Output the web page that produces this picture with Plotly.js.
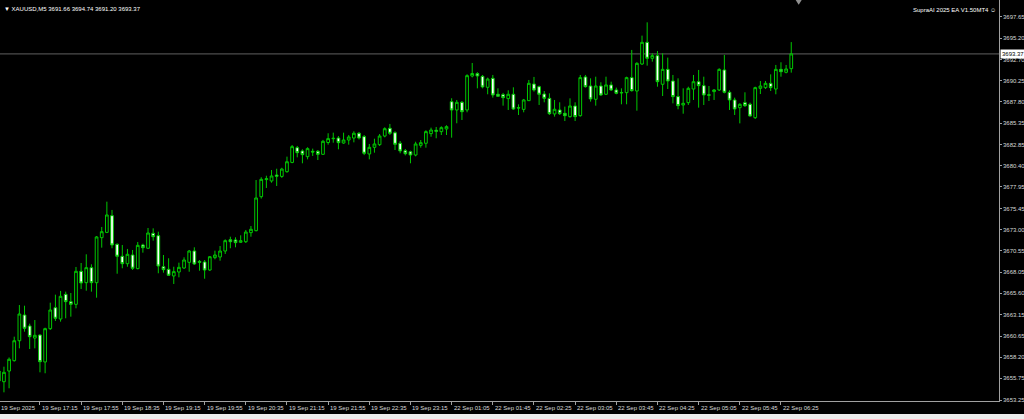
<!DOCTYPE html>
<html>
<head>
<meta charset="utf-8">
<script src="https://cdn.plot.ly/plotly-3.0.1.min.js"></script>
<style>
html,body{margin:0;padding:0;background:#ececec;overflow:hidden;}
#chart{width:1024px;height:414px;}
</style>
</head>
<body>
<div id="chart"></div>
<script>
// ---- data ----
const symbol = "XAUUSD,M5";
const eaName = "SupraAI 2025 EA V1.50MT4";
const fridayDate = "19 Sep";
const mondayDate = "22 Sep";
const fridayTimes = ["16:35","16:40","16:45","16:50","16:55",
"17:00","17:05","17:10","17:15","17:20","17:25","17:30","17:35","17:40","17:45","17:50","17:55",
"18:00","18:05","18:10","18:15","18:20","18:25","18:30","18:35","18:40","18:45","18:50","18:55",
"19:00","19:05","19:10","19:15","19:20","19:25","19:30","19:35","19:40","19:45","19:50","19:55",
"20:00","20:05","20:10","20:15","20:20","20:25","20:30","20:35","20:40","20:45","20:50","20:55",
"21:00","21:05","21:10","21:15","21:20","21:25","21:30","21:35","21:40","21:45","21:50","21:55",
"22:00","22:05","22:10","22:15","22:20","22:25","22:30","22:35","22:40","22:45","22:50","22:55",
"23:00","23:05","23:10","23:15","23:20","23:25","23:30","23:35","23:40","23:45","23:50"];
const mondayTimes = ["01:05","01:10","01:15","01:20","01:25","01:30","01:35","01:40","01:45","01:50","01:55",
"02:00","02:05","02:10","02:15","02:20","02:25","02:30","02:35","02:40","02:45","02:50","02:55",
"03:00","03:05","03:10","03:15","03:20","03:25","03:30","03:35","03:40","03:45","03:50","03:55",
"04:00","04:05","04:10","04:15","04:20","04:25","04:30","04:35","04:40","04:45","04:50","04:55",
"05:00","05:05","05:10","05:15","05:20","05:25","05:30","05:35","05:40","05:45","05:50","05:55",
"06:00","06:05","06:10","06:15","06:20","06:25","06:30","06:35"];

const opens = [3656.61,3655.37,3656.61,3657.81,3660.12,3663.10,3661.83,3660.43,3660.78,3657.66,
3661.52,3663.95,3662.64,3665.50,3664.65,3664.34,3668.17,3666.85,3668.59,3666.85,
3672.07,3672.68,3674.62,3671.30,3669.91,3669.05,3670.06,3668.48,3671.22,3670.84,
3672.57,3672.30,3668.70,3668.40,3667.63,3668.09,3668.55,3669.21,3670.52,3669.32,
3669.25,3668.32,3669.75,3669.83,3670.52,3671.83,3671.80,3671.53,3671.60,3672.65,
3672.88,3676.82,3678.80,3678.64,3679.33,3679.17,3679.72,3680.79,3682.50,3682.12,
3681.46,3682.08,3682.08,3681.73,3683.10,3683.60,3683.62,3683.04,3683.39,3683.62,
3684.17,3683.78,3681.77,3682.54,3682.85,3683.85,3684.75,3684.23,3683.01,3682.15,
3682.03,3681.65,3682.77,3683.01,3684.13,3684.52,3684.36,3684.67,3687.83,3686.87,
3687.76,3686.87,3690.81,3691.10,3690.77,3689.50,3690.54,3688.69,3688.65,3688.19,
3688.69,3687.14,3686.94,3687.95,3689.88,3689.57,3688.72,3688.22,3686.41,3686.87,
3686.48,3686.10,3687.33,3686.21,3690.70,3689.65,3688.11,3689.65,3688.69,3689.77,
3689.19,3688.90,3688.88,3690.62,3689.07,3692.20,3694.71,3692.86,3693.17,3689.85,
3691.58,3690.23,3688.42,3687.45,3687.72,3689.30,3690.15,3689.69,3688.63,3689.00,
3689.19,3691.51,3688.92,3688.03,3687.14,3687.72,3687.53,3685.98,3689.38,3689.46,
3689.96,3689.30,3691.58,3691.24,3691.66];
const highs = [3657.20,3657.11,3658.18,3660.59,3664.26,3664.18,3662.10,3662.52,3660.87,3661.63,
3664.53,3665.46,3665.89,3665.81,3665.65,3668.67,3669.13,3670.14,3668.98,3672.26,
3673.31,3676.24,3675.28,3671.40,3671.22,3670.76,3670.64,3671.57,3671.37,3673.19,
3673.15,3672.76,3670.06,3669.68,3668.70,3669.17,3669.79,3670.64,3670.95,3669.48,
3669.48,3669.94,3670.56,3671.10,3671.87,3672.18,3672.11,3672.34,3672.96,3673.42,
3678.75,3679.07,3679.25,3679.91,3680.06,3680.17,3681.46,3682.81,3682.70,3682.31,
3682.55,3682.39,3682.23,3683.40,3684.17,3684.24,3683.85,3684.24,3683.97,3684.40,
3684.32,3683.97,3682.93,3683.54,3684.08,3684.86,3685.25,3684.40,3683.27,3682.35,
3682.15,3683.19,3683.39,3684.52,3684.82,3684.90,3684.98,3685.10,3688.23,3688.03,
3687.91,3691.01,3692.32,3691.25,3690.93,3690.62,3690.93,3689.38,3688.85,3689.15,
3689.50,3687.52,3688.15,3690.35,3690.70,3689.69,3689.07,3688.80,3688.03,3687.76,
3687.26,3688.22,3687.76,3690.93,3690.93,3690.54,3690.73,3690.08,3690.73,3690.15,
3689.46,3689.38,3690.73,3693.83,3692.40,3695.49,3697.03,3693.44,3693.71,3693.44,
3692.94,3690.93,3690.54,3689.38,3689.57,3690.93,3691.51,3690.73,3689.65,3689.30,
3691.70,3693.25,3689.15,3688.30,3687.64,3688.92,3687.72,3689.57,3690.23,3690.23,
3691.00,3692.09,3692.40,3692.09,3694.74];
const lows = [3654.00,3654.14,3654.61,3657.70,3659.24,3661.17,3659.16,3659.24,3656.46,3656.35,
3661.37,3662.41,3662.33,3662.72,3662.91,3663.88,3666.12,3665.92,3665.81,3665.11,
3670.91,3672.60,3670.84,3667.89,3668.52,3668.70,3668.32,3668.40,3670.33,3670.75,
3671.72,3667.94,3668.01,3667.63,3666.70,3667.47,3668.45,3668.12,3668.90,3668.24,
3667.31,3668.20,3669.56,3669.40,3670.18,3670.84,3670.95,3671.45,3671.45,3672.18,
3672.80,3676.60,3677.83,3678.44,3678.06,3679.00,3679.60,3680.70,3681.38,3680.69,
3681.15,3681.54,3681.07,3681.65,3682.85,3683.08,3682.31,3682.95,3682.85,3683.12,
3683.45,3681.64,3681.15,3681.92,3682.70,3683.70,3683.97,3682.23,3681.85,3681.61,
3680.69,3681.50,3682.50,3682.50,3683.77,3683.59,3683.97,3683.97,3683.66,3685.33,
3685.71,3686.60,3690.65,3689.38,3689.38,3688.69,3688.30,3688.40,3687.37,3686.87,
3686.87,3686.29,3686.60,3687.91,3689.00,3687.45,3687.76,3686.29,3686.10,3686.29,
3685.59,3685.98,3685.59,3686.10,3689.46,3687.84,3687.37,3688.49,3688.61,3689.07,
3688.69,3687.53,3687.53,3689.00,3686.79,3692.09,3692.01,3692.47,3689.57,3688.49,
3689.30,3687.64,3686.95,3686.44,3687.45,3688.03,3687.14,3687.45,3687.91,3688.03,
3689.07,3688.80,3686.87,3686.29,3685.32,3687.22,3686.10,3685.83,3688.72,3689.30,
3689.07,3688.69,3690.73,3691.12,3691.20];
const closes = [3655.45,3656.46,3657.97,3660.12,3663.22,3661.56,3660.59,3660.75,3657.69,3661.52,
3663.68,3662.72,3665.27,3664.65,3664.34,3668.17,3666.81,3668.59,3666.85,3672.15,
3672.76,3674.70,3671.22,3669.91,3669.05,3670.14,3668.52,3671.18,3670.91,3672.61,
3672.18,3668.78,3668.36,3667.71,3668.13,3668.63,3669.48,3670.52,3669.02,3669.21,
3668.32,3669.86,3670.06,3670.52,3671.72,3671.60,3671.49,3671.72,3672.72,3673.04,
3676.67,3678.83,3678.90,3679.22,3679.18,3680.02,3680.87,3682.62,3681.92,3681.69,
3682.39,3682.00,3681.73,3683.24,3683.55,3683.55,3683.08,3683.39,3683.74,3684.17,
3683.62,3681.85,3682.54,3682.93,3683.85,3684.70,3684.17,3682.89,3682.12,3681.80,
3681.65,3682.93,3683.08,3684.36,3684.55,3684.40,3684.82,3684.94,3686.87,3687.76,
3686.67,3690.85,3691.10,3690.81,3689.54,3690.46,3688.61,3688.46,3688.30,3688.69,
3686.98,3687.10,3688.03,3689.96,3689.19,3688.69,3688.22,3686.44,3686.95,3686.44,
3686.21,3687.33,3686.10,3690.62,3689.57,3688.15,3689.65,3688.61,3689.77,3689.19,
3688.80,3688.86,3690.62,3689.11,3692.28,3694.71,3692.86,3693.17,3690.15,3691.58,
3690.23,3688.42,3687.37,3687.64,3689.38,3690.15,3689.69,3688.61,3688.59,3689.19,
3691.58,3688.92,3688.03,3686.99,3687.53,3687.37,3686.17,3689.46,3689.65,3689.96,
3689.46,3691.58,3691.31,3691.62,3693.37];

const xTickLabels = ["19 Sep 17:15","19 Sep 17:55","19 Sep 18:35","19 Sep 19:15","19 Sep 19:55",
"19 Sep 20:35","19 Sep 21:15","19 Sep 21:55","19 Sep 22:35","19 Sep 23:15",
"22 Sep 01:05","22 Sep 01:45","22 Sep 02:25","22 Sep 03:05","22 Sep 03:45",
"22 Sep 04:25","22 Sep 05:05","22 Sep 05:45","22 Sep 06:25"];
const firstDateLabel = "19 Sep 2025";
const yTickValues = [3697.65,3695.20,3692.70,3690.25,3687.80,3685.35,3682.85,3680.40,3677.95,
3675.45,3673.00,3670.55,3668.05,3665.60,3663.15,3660.65,3658.20,3655.75,3653.25];

// ---- build ----
const times = fridayTimes.map(t => fridayDate + " " + t).concat(mondayTimes.map(t => mondayDate + " " + t));
const last = closes.length - 1;
const fmt = v => v.toFixed(2);

const GREEN = "#00c800";
const TXT = "#d8d8d8";
const FONT = "Liberation Sans, Arial, sans-serif";
const FS = 6;

const trace = {
  type: "candlestick",
  x: times,
  open: opens, high: highs, low: lows, close: closes,
  increasing: {line: {color: GREEN, width: 1}, fillcolor: "#000000"},
  decreasing: {line: {color: GREEN, width: 1}, fillcolor: "#ffffff"},
  whiskerwidth: 0,
  hoverinfo: "skip",
  showlegend: false
};

const annotations = [];
// time axis labels (left-aligned after each tick, as in MT4)
annotations.push({xref: "paper", yref: "paper", x: 0, y: 0, xanchor: "left", yanchor: "top",
  text: firstDateLabel, showarrow: false, font: {family: FONT, size: FS, color: TXT}, borderpad: 0, yshift: -3});
xTickLabels.forEach(lbl => {
  annotations.push({xref: "x", yref: "paper", x: lbl, y: 0, xanchor: "left", yanchor: "top",
    text: lbl, showarrow: false, font: {family: FONT, size: FS, color: TXT}, borderpad: 0, xshift: 1, yshift: -3});
});
// price axis labels
yTickValues.forEach(v => {
  annotations.push({xref: "paper", yref: "y", x: 1, y: v, xanchor: "left", yanchor: "middle",
    text: fmt(v), showarrow: false, font: {family: FONT, size: FS, color: TXT}, borderpad: 0, xshift: 3});
});
// header
annotations.push({xref: "paper", yref: "paper", x: 0, y: 1, xanchor: "left", yanchor: "top",
  text: "\u25BC " + symbol + " " + fmt(opens[last]) + " " + fmt(highs[last]) + " " + fmt(lows[last]) + " " + fmt(closes[last]),
  showarrow: false, font: {family: FONT, size: FS, color: "#ffffff"}, borderpad: 0, xshift: 3, yshift: -5});
annotations.push({xref: "paper", yref: "paper", x: 1, y: 1, xanchor: "right", yanchor: "top",
  text: eaName + " \u263A", showarrow: false, font: {family: FONT, size: FS, color: "#ffffff"}, borderpad: 0, xshift: -2, yshift: -6});
// current price label
annotations.push({xref: "paper", yref: "y", x: 1, y: closes[last], xanchor: "left", yanchor: "middle",
  text: fmt(closes[last]), showarrow: false, font: {family: FONT, size: FS, color: "#000000"},
  bgcolor: "#ffffff", borderpad: 1, xshift: 1});

const layout = {
  width: 1024, height: 414,
  paper_bgcolor: "#000000", plot_bgcolor: "#000000",
  margin: {l: 0, r: 25, t: 0, b: 13, pad: 0},
  showlegend: false,
  boxgap: 0.25,
  xaxis: {
    type: "category", range: [0.233, 194.37], rangeslider: {visible: false},
    showgrid: false, zeroline: false, showline: true, linecolor: "#a0a0a0", linewidth: 1,
    ticks: "outside", ticklen: 3, tickcolor: "#a0a0a0", tickwidth: 1,
    tickmode: "array", tickvals: xTickLabels, showticklabels: false, fixedrange: true
  },
  yaxis: {
    side: "right", range: [3653.134, 3699.62],
    showgrid: false, zeroline: false, showline: true, linecolor: "#a0a0a0", linewidth: 1,
    ticks: "outside", ticklen: 2, tickcolor: "#a0a0a0", tickwidth: 1,
    tickmode: "array", tickvals: yTickValues, showticklabels: false, fixedrange: true
  },
  shapes: [
    {type: "line", xref: "paper", yref: "y", x0: 0, x1: 1, y0: closes[last], y1: closes[last],
     line: {color: "#606060", width: 1}, layer: "below"},
    {type: "path", xref: "paper", yref: "paper", path: "M 0.7965 1 L 0.8025 1 L 0.7995 0.988 Z",
     fillcolor: "#909090", line: {width: 0}}
  ],
  annotations: annotations
};

Plotly.newPlot("chart", [trace], layout, {displayModeBar: false, staticPlot: true});
</script>
</body>
</html>
